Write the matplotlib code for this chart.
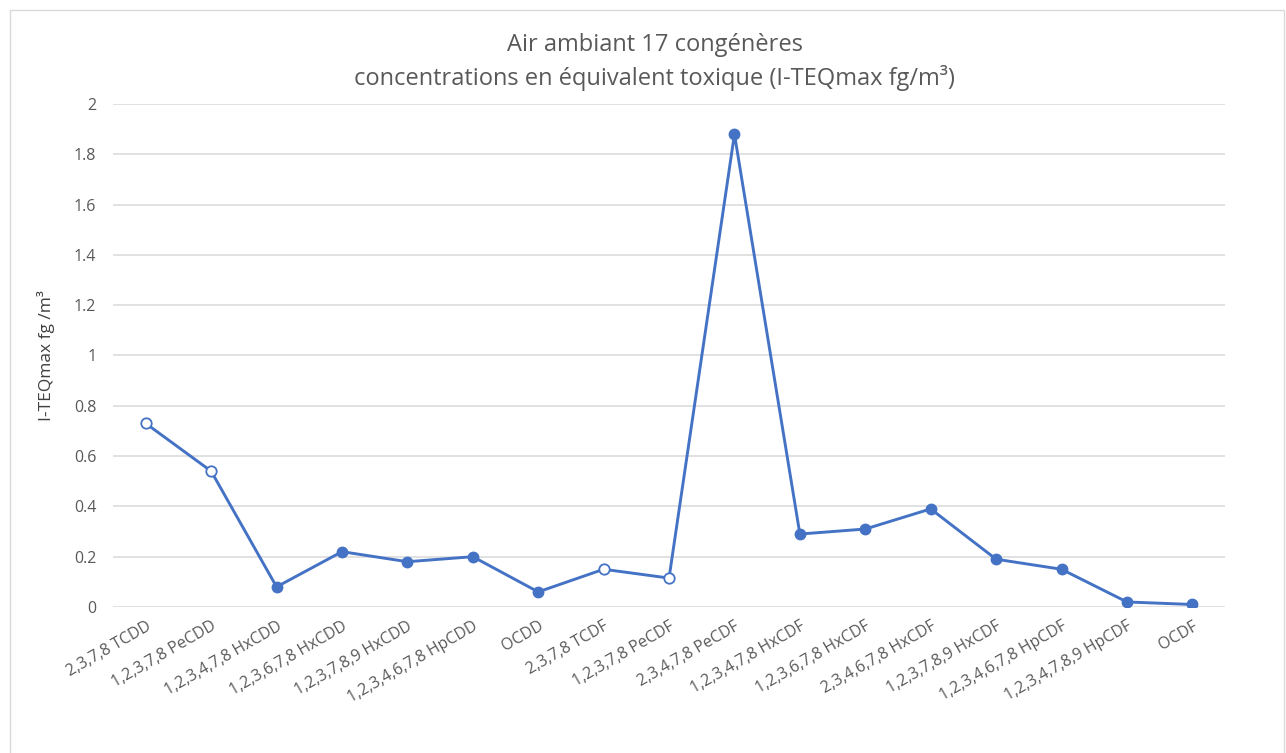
import matplotlib.pyplot as plt
from matplotlib.patches import Rectangle

plt.rcParams['font.family'] = ['Open Sans', 'DejaVu Sans']

# congeners and I-TEQmax values (fg/m3)
congeners = [
    "2,3,7,8 TCDD", "1,2,3,7,8 PeCDD", "1,2,3,4,7,8 HxCDD", "1,2,3,6,7,8 HxCDD",
    "1,2,3,7,8,9 HxCDD", "1,2,3,4,6,7,8 HpCDD", "OCDD", "2,3,7,8 TCDF",
    "1,2,3,7,8 PeCDF", "2,3,4,7,8 PeCDF", "1,2,3,4,7,8 HxCDF", "1,2,3,6,7,8 HxCDF",
    "2,3,4,6,7,8 HxCDF", "1,2,3,7,8,9 HxCDF", "1,2,3,4,6,7,8 HpCDF",
    "1,2,3,4,7,8,9 HpCDF", "OCDF",
]
values = [0.73, 0.54, 0.08, 0.22, 0.18, 0.20, 0.06, 0.15, 0.115, 1.88,
          0.29, 0.31, 0.39, 0.19, 0.15, 0.02, 0.01]
# points drawn with an open marker in the original
open_points = [0, 1, 7, 8]
y_ticks = [0, 0.2, 0.4, 0.6, 0.8, 1, 1.2, 1.4, 1.6, 1.8, 2]

blue = "#4472C4"
grey = "#595959"

fig = plt.figure(figsize=(12.86, 7.53), dpi=100)
ax = fig.add_axes([0.0879, 0.1939, 0.8647, 0.668])

x = list(range(len(values)))
ax.plot(x, values, color=blue, linewidth=2.1, zorder=2)
filled = [i for i in x if i not in open_points]
ax.plot(filled, [values[i] for i in filled], linestyle="none", marker="o",
        markersize=7.5, color=blue, zorder=3)
ax.plot(open_points, [values[i] for i in open_points], linestyle="none", marker="o",
        markersize=7.5, markerfacecolor="white", markeredgecolor=blue,
        markeredgewidth=1.3, zorder=3)

ax.set_xlim(-0.5, len(values) - 0.5)
ax.set_ylim(0, 2)
ax.set_yticks(y_ticks)
ax.set_yticklabels([f"{t:g}" for t in y_ticks])
ax.set_xticks(x)
ax.set_xticklabels(congeners, rotation=30, ha="right", rotation_mode="anchor")
ax.tick_params(axis="both", length=0, colors=grey, labelsize=11.5)
ax.tick_params(axis="y", pad=12)
ax.tick_params(axis="x", pad=8)

ax.grid(axis="y", color="#D9D9D9", linewidth=1.1)
ax.set_axisbelow(True)
for s in ax.spines.values():
    s.set_visible(False)

ax.set_ylabel("I-TEQmax fg /m³", fontsize=12.5, color="#404040", labelpad=14)

fig.text(0.509, 0.94, "Air ambiant 17 congénères", ha="center", va="center",
         fontsize=17, color=grey)
fig.text(0.509, 0.896, "concentrations en équivalent toxique (I-TEQmax fg/m³)",
         ha="center", va="center", fontsize=17, color=grey)

# chart border
fig.patches.append(Rectangle((10 / 1286, -0.01), 1 - 12 / 1286, 1 - 10 / 753 + 0.01,
                             transform=fig.transFigure, fill=False,
                             edgecolor="#D9D9D9", linewidth=1))

fig.savefig("out.png", dpi=100, facecolor="white")
